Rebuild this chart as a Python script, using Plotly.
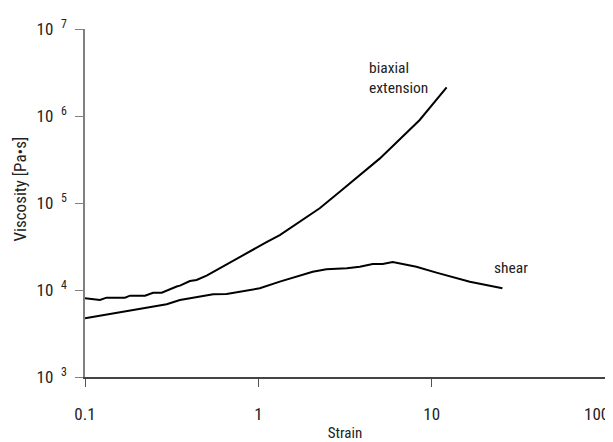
import plotly.graph_objects as go

# Biaxial extension data (strain, viscosity Pa·s)
biax_strain = [0.1, 0.122, 0.133, 0.17, 0.182, 0.222, 0.247, 0.277, 0.338, 0.353,
               0.403, 0.44, 0.503, 0.574, 0.598, 0.782, 0.855, 1.02, 1.115, 1.33,
               1.735, 2.26, 2.95, 3.85, 4.11, 5.01, 5.73, 6.54, 8.53, 12.2]
biax_visc = [8040, 7670, 8170, 8170, 8610, 8610, 9310, 9310, 10960, 11220,
             12680, 13030, 14620, 16980, 17740, 24150, 26420, 32060, 35500, 42850,
             60950, 87100, 134900, 209900, 234000, 323600, 416900, 537000, 899500, 2138000]

# Shear data
shear_strain = [0.1, 0.296, 0.353, 0.549, 0.656, 1.02, 1.33, 2.06, 2.47, 3.24,
                3.85, 4.57, 5.22, 5.96, 8.16, 10.65, 16.6, 25.6]
shear_visc = [4730, 6850, 7670, 8910, 8990, 10470, 12470, 16220, 17300, 17780,
              18530, 19950, 19950, 20990, 18530, 15850, 12470, 10470]

x_tickvals = [0.1, 1, 10, 100]
x_ticktext = ["0.1", "1", "10", "100\u2007\u2007"]
y_tickvals = [1e3, 1e4, 1e5, 1e6, 1e7]
y_ticktext = ["10\u2002<sup>3</sup>", "10\u2002<sup>4</sup>", "10\u2002<sup>5</sup>",
              "10\u2002<sup>6</sup>", "10\u2002<sup>7</sup>"]

FONT = "Liberation Sans Narrow, Roboto Condensed, Arial Narrow, Liberation Sans, sans-serif"

fig = go.Figure()
fig.add_trace(go.Scatter(x=biax_strain, y=biax_visc, mode="lines",
                         line=dict(color="black", width=2), showlegend=False))
fig.add_trace(go.Scatter(x=shear_strain, y=shear_visc, mode="lines",
                         line=dict(color="black", width=2), showlegend=False))

# annotation positions on log axes are given in log10 units
fig.add_annotation(x=0.625, y=6.44, xref="x", yref="y", text="biaxial<br>extension",
                   showarrow=False, xanchor="left", yanchor="middle", align="left",
                   font=dict(size=15.5, color="#222"))
fig.add_annotation(x=1.35, y=4.25, xref="x", yref="y", text="shear",
                   showarrow=False, xanchor="left", yanchor="middle", align="left",
                   font=dict(size=15.5, color="#222"))
# y-axis title
fig.add_annotation(x=-0.125, y=0.539, xref="paper", yref="paper", text="Viscosity [Pa•s]",
                   textangle=-90, showarrow=False, xanchor="center", yanchor="middle",
                   font=dict(size=17, color="#222"))

# the page body adds an 8px margin, so the figure is sized to fit the window
fig.update_layout(
    width=605, height=434,
    margin=dict(l=77, r=7.5, t=21, b=65),
    paper_bgcolor="white", plot_bgcolor="white",
    font=dict(family=FONT, size=16, color="#222"),
    xaxis=dict(type="log", range=[-1, 2], tickvals=x_tickvals, ticktext=x_ticktext,
               automargin=False, ticklabeloverflow="allow",
               showgrid=False, zeroline=False, showline=True, linecolor="#444", linewidth=1.5,
               ticks="outside", ticklen=8, tickcolor="#555", ticklabelstandoff=13,
               tickfont=dict(size=17),
               title=dict(text="Strain", standoff=6, font=dict(size=15))),
    yaxis=dict(type="log", range=[3, 7], tickvals=y_tickvals, ticktext=y_ticktext,
               automargin=False, ticklabeloverflow="allow",
               showgrid=False, zeroline=False, showline=True, linecolor="#808080", linewidth=1.5,
               ticks="outside", ticklen=8, tickcolor="#808080", ticklabelstandoff=5,
               tickfont=dict(size=17)),
)

fig.write_html("out.html")
